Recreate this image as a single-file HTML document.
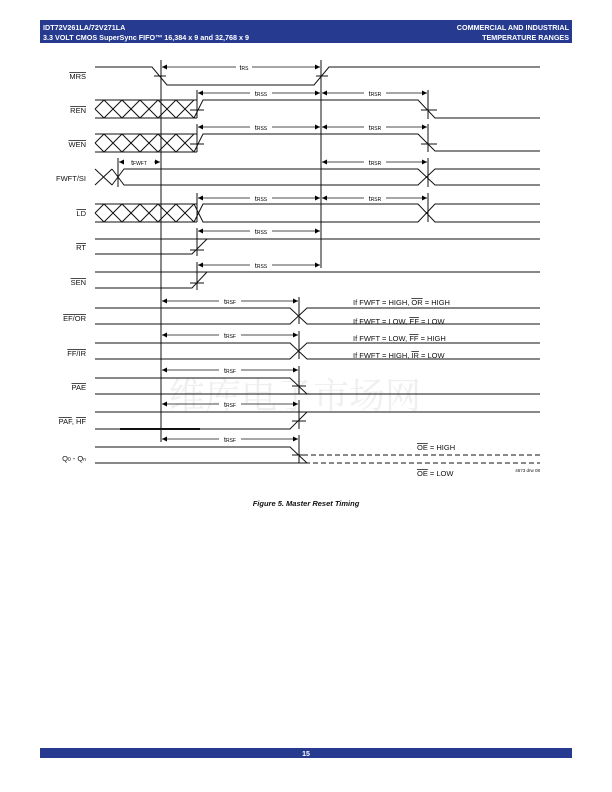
<!DOCTYPE html>
<html><head><meta charset="utf-8"><style>
body{margin:0;background:#fff;}
svg{display:block;font-family:"Liberation Sans",Arial,sans-serif;}
.o{text-decoration:overline;}
</style></head><body>
<svg width="612" height="792" viewBox="0 0 612 792" xmlns="http://www.w3.org/2000/svg">
<defs>
<marker id="ah" markerWidth="6" markerHeight="6" refX="5" refY="2.5" orient="auto-start-reverse" markerUnits="userSpaceOnUse"><path d="M0,0 L5,2.5 L0,5 z" fill="#000"/></marker>
</defs>
<rect x="40" y="20" width="532" height="23" fill="#263a8f"/>
<g fill="#fff" font-weight="bold" font-size="7.2">
<text x="43" y="30">IDT72V261LA/72V271LA</text>
<text x="43" y="40">3.3 VOLT CMOS SuperSync FIFO™ 16,384 x 9 and 32,768 x 9</text>
<text x="569" y="30" text-anchor="end">COMMERCIAL AND INDUSTRIAL</text>
<text x="569" y="40" text-anchor="end">TEMPERATURE RANGES</text>
</g>
<text x="295" y="408" font-family="'Noto Serif CJK SC',serif" font-size="36" fill="#efefef" text-anchor="middle">维库电子市场网</text>

<g stroke="#111" stroke-width="1" fill="none">
<line x1="161" y1="60" x2="161" y2="442"/>
<line x1="321" y1="60" x2="321" y2="268"/>
<polyline points="95,67 152,67 167,85 314,85 329,67 540,67"/>
<line x1="154" y1="76" x2="166" y2="76"/><line x1="316" y1="76" x2="328" y2="76"/>
<g id="h">
<line x1="95" y1="100" x2="197" y2="100"/><line x1="95" y1="118" x2="197" y2="118"/>
<path d="M95,109 L104,100 M95,109 L104,118 M104,100 L122,118 M104,118 L122,100 M122,100 L140,118 M122,118 L140,100 M140,100 L158,118 M140,118 L158,100 M158,100 L176,118 M158,118 L176,100 M176,100 L194,118 M176,118 L194,100"/>
</g>
<polyline points="194,118 203,100 418,100 435,118 540,118"/>
<line x1="197" y1="90" x2="197" y2="118"/><line x1="190" y1="110" x2="204" y2="110"/>
<line x1="428" y1="90" x2="428" y2="119"/><line x1="421" y1="110" x2="437" y2="110"/>
<use href="#h" y="34"/>
<polyline points="194,152 203,134 418,134 435,151 540,151"/>
<line x1="197" y1="124" x2="197" y2="152"/><line x1="190" y1="144" x2="204" y2="144"/>
<line x1="428" y1="124" x2="428" y2="152"/><line x1="421" y1="144" x2="437" y2="144"/>
<path d="M95,169 L112,185 M95,185 L112,169"/>
<polyline points="112,185 118,177 124,169 418,169 435,185 540,185"/>
<polyline points="112,169 118,177 124,185 418,185 435,169 540,169"/>
<line x1="118" y1="158" x2="118" y2="187"/>
<line x1="428" y1="158" x2="428" y2="187"/>
<use href="#h" y="104"/>
<polyline points="194,222 203,204 418,204 435,222 540,222"/>
<polyline points="194,204 203,222 418,222 435,204 540,204"/>
<line x1="197" y1="193" x2="197" y2="222"/>
<line x1="428" y1="193" x2="428" y2="222"/>
<line x1="95" y1="239" x2="540" y2="239"/>
<polyline points="95,254 192,254 207,239"/>
<line x1="197" y1="228" x2="197" y2="256"/><line x1="190" y1="250" x2="204" y2="250"/>
<line x1="95" y1="272" x2="540" y2="272"/>
<polyline points="95,288 192,288 207,272"/>
<line x1="197" y1="262" x2="197" y2="290"/><line x1="190" y1="283" x2="204" y2="283"/>
<polyline points="95,308 290,308 307,324 540,324"/>
<polyline points="95,324 290,324 307,308 540,308"/>
<line x1="299" y1="297" x2="299" y2="324"/>
<polyline points="95,343 290,343 307,359 540,359"/>
<polyline points="95,359 290,359 307,343 540,343"/>
<line x1="299" y1="331" x2="299" y2="359"/>
<polyline points="95,378 290,378 307,394"/>
<line x1="95" y1="394" x2="540" y2="394"/>
<line x1="299" y1="366" x2="299" y2="394"/><line x1="292" y1="386" x2="306" y2="386"/>
<line x1="95" y1="412" x2="540" y2="412"/>
<polyline points="95,429 290,429 307,412"/>
<line x1="120" y1="429" x2="200" y2="429" stroke-width="2"/>
<line x1="299" y1="400" x2="299" y2="429"/><line x1="292" y1="421" x2="306" y2="421"/>
<polyline points="95,447 290,447 307,463"/>
<line x1="95" y1="463" x2="305" y2="463"/>
<line x1="303" y1="455" x2="540" y2="455" stroke-dasharray="5,3"/>
<line x1="305" y1="463" x2="540" y2="463" stroke-dasharray="5,3"/>
<line x1="299" y1="435" x2="299" y2="463"/><line x1="292" y1="455" x2="306" y2="455"/>
</g>

<g stroke="#111" stroke-width="0.8" marker-start="url(#ah)" marker-end="url(#ah)">
<line x1="162" y1="67" x2="320" y2="67"/>
<line x1="198" y1="93" x2="320" y2="93"/><line x1="322" y1="93" x2="427" y2="93"/>
<line x1="198" y1="127" x2="320" y2="127"/><line x1="322" y1="127" x2="427" y2="127"/>
<line x1="119" y1="162" x2="160" y2="162"/><line x1="322" y1="162" x2="427" y2="162"/>
<line x1="198" y1="198" x2="320" y2="198"/><line x1="322" y1="198" x2="427" y2="198"/>
<line x1="198" y1="231" x2="320" y2="231"/>
<line x1="198" y1="265" x2="320" y2="265"/>
<line x1="162" y1="301" x2="298" y2="301"/>
<line x1="162" y1="335" x2="298" y2="335"/>
<line x1="162" y1="370" x2="298" y2="370"/>
<line x1="162" y1="404" x2="298" y2="404"/>
<line x1="162" y1="439" x2="298" y2="439"/>
</g>
<g font-size="7" text-anchor="middle">
<g fill="#fff"><rect x="236" y="62" width="16" height="9"/>
<rect x="250" y="88" width="22" height="9"/><rect x="364" y="88" width="22" height="9"/>
<rect x="250" y="122" width="22" height="9"/><rect x="364" y="122" width="22" height="9"/>
<rect x="124" y="157" width="30" height="9"/><rect x="364" y="157" width="22" height="9"/>
<rect x="250" y="193" width="22" height="9"/><rect x="364" y="193" width="22" height="9"/>
<rect x="250" y="226" width="22" height="9"/><rect x="250" y="260" width="22" height="9"/>
<rect x="219" y="296" width="22" height="9"/><rect x="219" y="330" width="22" height="9"/>
<rect x="219" y="365" width="22" height="9"/><rect x="219" y="399" width="22" height="9"/>
<rect x="219" y="434" width="22" height="9"/></g>
<text x="244" y="70">t<tspan font-size="5">RS</tspan></text>
<text x="261" y="96">t<tspan font-size="5">RSS</tspan></text><text x="375" y="96">t<tspan font-size="5">RSR</tspan></text>
<text x="261" y="130">t<tspan font-size="5">RSS</tspan></text><text x="375" y="130">t<tspan font-size="5">RSR</tspan></text>
<text x="139" y="165">t<tspan font-size="5">FWFT</tspan></text><text x="375" y="165">t<tspan font-size="5">RSR</tspan></text>
<text x="261" y="201">t<tspan font-size="5">RSS</tspan></text><text x="375" y="201">t<tspan font-size="5">RSR</tspan></text>
<text x="261" y="234">t<tspan font-size="5">RSS</tspan></text>
<text x="261" y="268">t<tspan font-size="5">RSS</tspan></text>
<text x="230" y="304">t<tspan font-size="5">RSF</tspan></text>
<text x="230" y="338">t<tspan font-size="5">RSF</tspan></text>
<text x="230" y="373">t<tspan font-size="5">RSF</tspan></text>
<text x="230" y="407">t<tspan font-size="5">RSF</tspan></text>
<text x="230" y="442">t<tspan font-size="5">RSF</tspan></text>
</g>
<g font-size="7.5" text-anchor="end" fill="#111">
<text x="86" y="79" class="o">MRS</text>
<text x="86" y="113" class="o">REN</text>
<text x="86" y="147" class="o">WEN</text>
<text x="86" y="181">FWFT/SI</text>
<text x="86" y="216" class="o">LD</text>
<text x="86" y="250" class="o">RT</text>
<text x="86" y="285" class="o">SEN</text>
<text x="86" y="321" class="o">EF/OR</text>
<text x="86" y="356" class="o">FF/IR</text>
<text x="86" y="390" class="o">PAE</text>
<text x="86" y="424"><tspan class="o">PAF</tspan>, <tspan class="o">HF</tspan></text>
<text x="86" y="461">Q<tspan font-size="5">0</tspan> - Q<tspan font-size="5">n</tspan></text>
</g>
<g font-size="7.5" fill="#111">
<text x="353" y="305">If FWFT = HIGH, <tspan class="o">OR</tspan> = HIGH</text>
<text x="353" y="324">If FWFT = LOW, <tspan class="o">EF</tspan> = LOW</text>
<text x="353" y="341">If FWFT = LOW, <tspan class="o">FF</tspan> = HIGH</text>
<text x="353" y="358">If FWFT = HIGH, <tspan class="o">IR</tspan> = LOW</text>
<text x="417" y="450"><tspan class="o">OE</tspan> = HIGH</text>
<text x="417" y="476"><tspan class="o">OE</tspan> = LOW</text>
<text x="540" y="472" font-size="4.5" text-anchor="end">4673 drw 08</text>
</g>
<text x="306" y="506" font-size="7.5" font-weight="bold" font-style="italic" text-anchor="middle" fill="#111">Figure 5.  Master Reset Timing</text>
<rect x="40" y="748" width="532" height="10" fill="#263a8f"/>
<text x="306" y="756" font-size="7" font-weight="bold" fill="#fff" text-anchor="middle">15</text>
</svg>
</body></html>
